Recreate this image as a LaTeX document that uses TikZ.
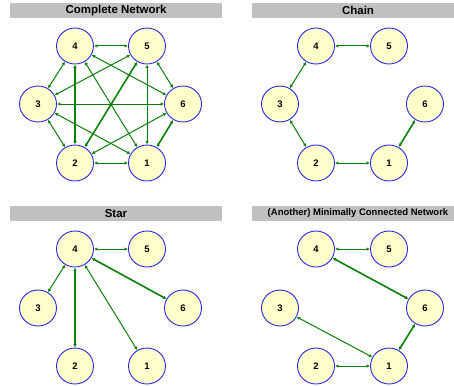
\documentclass[tikz,border=0pt]{standalone}
\usepackage{fontspec}
\setmainfont{Liberation Sans}
\usetikzlibrary{arrows.meta,shapes.geometric}
\definecolor{peer}{RGB}{255,255,204}
\definecolor{rim}{RGB}{40,40,235}
\definecolor{link}{RGB}{10,128,10}
\definecolor{bar}{RGB}{192,192,192}

\begin{document}
\begin{tikzpicture}[x=1pt,y=-1pt,
    peer/.style ={ellipse, draw=rim, fill=peer, line width=0.9pt, minimum width=37pt,
                  minimum height=36pt, inner sep=0pt, font=\fontsize{9.5}{10}\selectfont\bfseries},
    link/.style ={draw=link, line width=1pt,
                  {Latex[length=3.5pt,width=3.5pt]}-{Latex[length=3.5pt,width=3.5pt]}},
    heavy/.style ={link, line width=1.6pt},
    heading/.style ={font=\fontsize{11.5}{13}\selectfont\bfseries}]
   \useasboundingbox (0,0) rectangle (454,385);
   \fill[bar] (10,3) rectangle (222,18);
   \fill[bar] (252,3) rectangle (454,18);
   \fill[bar] (10,206) rectangle (222,221);
   \fill[bar] (252,206) rectangle (454,221);
   \node[heading] (t1) at (116,10.5) {Complete Network};
   \node[heading] (t2) at (358,10.5) {Chain};
   \node[heading] (t3) at (116,213.5) {Star};
   \node[heading,font=\fontsize{9.5}{11}\selectfont\bfseries] (t4) at (358,213.5) {(Another) Minimally Connected Network};

   % complete network
   \node[peer] (c4) at (75,46) {4};
   \node[peer] (c5) at (147,46) {5};
   \node[peer] (c3) at (38,104) {3};
   \node[peer] (c6) at (183,104) {6};
   \node[peer] (c2) at (75,163) {2};
   \node[peer] (c1) at (147,163) {1};

   \draw[link] (c4) to (c5);
   \draw[link] (c4) to (c3);
   \draw[link] (c4) to (c6);
   \draw[heavy] (c4) to (c2);
   \draw[link] (c4) to (c1);
   \draw[link] (c5) to (c3);
   \draw[link] (c5) to (c6);
   \draw[heavy] (c5) to (c2);
   \draw[link] (c5) to (c1);
   \draw[link] (c3) to (c6);
   \draw[link] (c3) to (c2);
   \draw[link] (c3) to (c1);
   \draw[link] (c6) to (c2);
   \draw[heavy] (c6) to (c1);
   \draw[link] (c2) to (c1);

   % chain
   \node[peer] (h4) at (316,46) {4};
   \node[peer] (h5) at (389,46) {5};
   \node[peer] (h3) at (280,104) {3};
   \node[peer] (h6) at (425,104) {6};
   \node[peer] (h2) at (316,163) {2};
   \node[peer] (h1) at (389,163) {1};

   \draw[link] (h4) to (h5);
   \draw[link] (h4) to (h3);
   \draw[link] (h3) to (h2);
   \draw[link] (h2) to (h1);
   \draw[heavy] (h1) to (h6);

   % star
   \node[peer] (s4) at (75,249) {4};
   \node[peer] (s5) at (147,249) {5};
   \node[peer] (s3) at (38,308) {3};
   \node[peer] (s6) at (183,308) {6};
   \node[peer] (s2) at (75,366) {2};
   \node[peer] (s1) at (147,366) {1};

   \draw[link] (s4) to (s5);
   \draw[link] (s4) to (s3);
   \draw[heavy] (s4) to (s6);
   \draw[heavy] (s4) to (s2);
   \draw[link] (s4) to (s1);

   % minimally connected
   \node[peer] (m4) at (316,249) {4};
   \node[peer] (m5) at (389,249) {5};
   \node[peer] (m3) at (280,308) {3};
   \node[peer] (m6) at (425,308) {6};
   \node[peer] (m2) at (316,366) {2};
   \node[peer] (m1) at (389,366) {1};

   \draw[link] (m4) to (m5);
   \draw[heavy] (m4) to (m6);
   \draw[link] (m3) to (m1);
   \draw[link] (m2) to (m1);
   \draw[heavy] (m1) to (m6);
 \end{tikzpicture}
\end{document}
